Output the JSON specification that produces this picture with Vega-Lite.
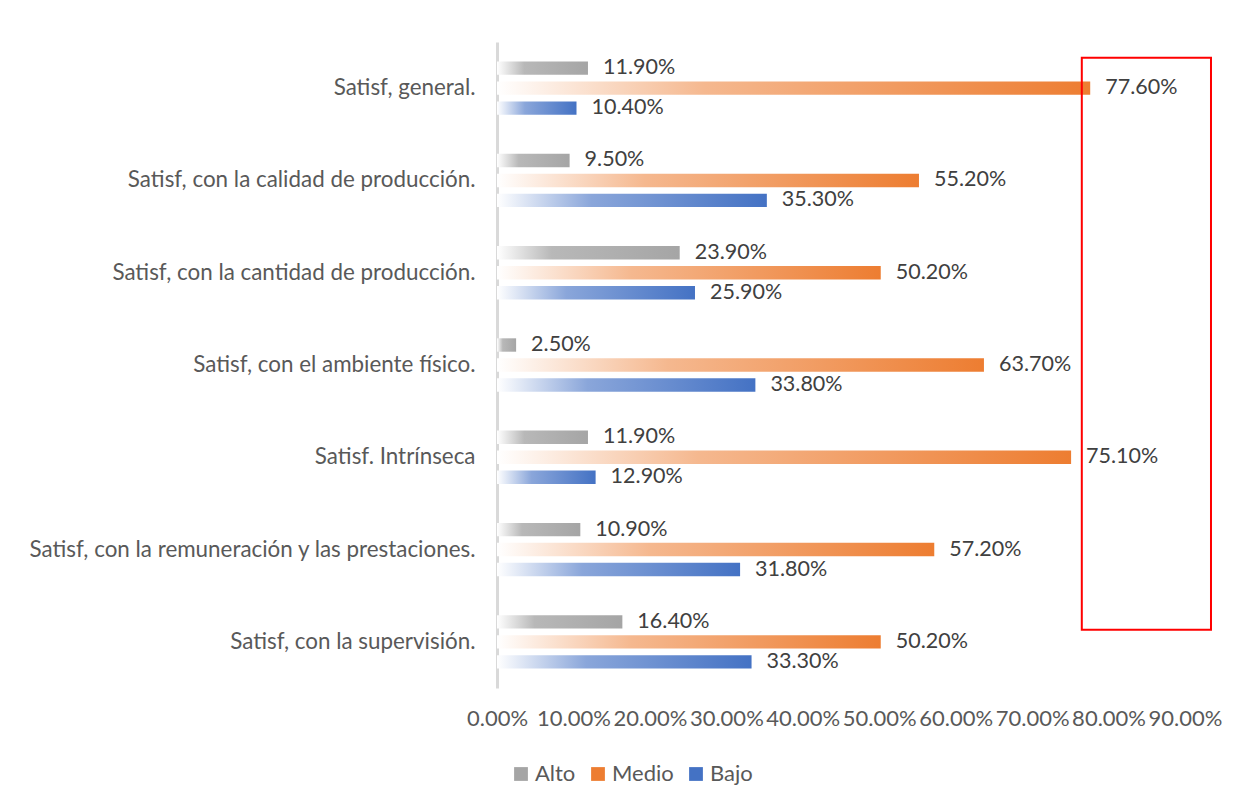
{
  "$schema": "https://vega.github.io/schema/vega-lite/v6.json",
  "width": 688,
  "height": 646,
  "autosize": "none",
  "padding": {"left": 497, "top": 42, "right": 49, "bottom": 116},
  "background": "white",
  "config": {
    "view": {"stroke": null},
    "font": "Lato",
    "axis": {"labelFont": "Lato", "labelColor": "#595959", "labelFontSize": 22, "grid": false, "ticks": false, "title": null},
    "legend": {"labelFont": "Lato", "labelColor": "#595959", "labelFontSize": 22}
  },
  "datasets": {
    "bars": [
      {"cat": "Satisf, general.", "series": "Alto", "value": 0.119},
      {"cat": "Satisf, general.", "series": "Medio", "value": 0.776},
      {"cat": "Satisf, general.", "series": "Bajo", "value": 0.104},
      {"cat": "Satisf, con la calidad de producción.", "series": "Alto", "value": 0.095},
      {"cat": "Satisf, con la calidad de producción.", "series": "Medio", "value": 0.552},
      {"cat": "Satisf, con la calidad de producción.", "series": "Bajo", "value": 0.353},
      {"cat": "Satisf, con la cantidad de producción.", "series": "Alto", "value": 0.239},
      {"cat": "Satisf, con la cantidad de producción.", "series": "Medio", "value": 0.502},
      {"cat": "Satisf, con la cantidad de producción.", "series": "Bajo", "value": 0.259},
      {"cat": "Satisf, con el ambiente físico.", "series": "Alto", "value": 0.025},
      {"cat": "Satisf, con el ambiente físico.", "series": "Medio", "value": 0.637},
      {"cat": "Satisf, con el ambiente físico.", "series": "Bajo", "value": 0.338},
      {"cat": "Satisf. Intrínseca", "series": "Alto", "value": 0.119},
      {"cat": "Satisf. Intrínseca", "series": "Medio", "value": 0.751},
      {"cat": "Satisf. Intrínseca", "series": "Bajo", "value": 0.129},
      {"cat": "Satisf, con la remuneración y las prestaciones.", "series": "Alto", "value": 0.109},
      {"cat": "Satisf, con la remuneración y las prestaciones.", "series": "Medio", "value": 0.572},
      {"cat": "Satisf, con la remuneración y las prestaciones.", "series": "Bajo", "value": 0.318},
      {"cat": "Satisf, con la supervisión.", "series": "Alto", "value": 0.164},
      {"cat": "Satisf, con la supervisión.", "series": "Medio", "value": 0.502},
      {"cat": "Satisf, con la supervisión.", "series": "Bajo", "value": 0.333}
    ],
    "box": [
      {"x1": 0.765, "x2": 0.934, "y1": 0.17, "y2": 6.37}
    ]
  },
  "layer": [
    {
      "data": {"name": "bars"},
      "encoding": {
        "y": {"field": "cat", "type": "nominal", "sort": null,
              "scale": {"paddingInner": 0.35, "paddingOuter": 0.175},
              "axis": {"domainColor": "#d9d9d9", "domainWidth": 3, "labelPadding": 22, "labelLimit": 600, "labelFontSize": 22.4}},
        "yOffset": {"field": "series", "type": "nominal",
                    "scale": {"domain": ["Alto", "Medio", "Bajo"], "paddingInner": 0.33, "paddingOuter": 0.165}},
        "x": {"field": "value", "type": "quantitative",
              "scale": {"domain": [0, 0.9], "nice": false},
              "axis": {"format": ".2%", "values": [0, 0.1, 0.2, 0.3, 0.4, 0.5, 0.6, 0.7, 0.8, 0.9], "domain": false, "labelPadding": 20, "labelFlush": false}}
      },
      "layer": [
        {
          "mark": {"type": "bar", "opacity": 0},
          "encoding": {
            "color": {"field": "series", "type": "nominal",
                      "scale": {"domain": ["Alto", "Medio", "Bajo"], "range": ["#a5a5a5", "#ed7d31", "#4472c4"]},
                      "legend": {"orient": "none", "legendX": 13, "legendY": 721, "direction": "horizontal", "title": null, "symbolType": "square", "symbolSize": 190, "symbolStrokeWidth": 0, "symbolOpacity": 1, "columnPadding": 11, "labelOffset": 3,
                        "encode": {"symbols": {"update": {
                          "fill": {"value": {"expr": "datum.value === 'Alto' ? {gradient: 'linear', x1: 0, y1: 0, x2: 1, y2: 0, stops: [{offset: 0, color: '#ffffff'}, {offset: 0.5, color: '#b8b8b8'}, {offset: 1, color: '#a5a5a5'}]} : datum.value === 'Medio' ? {gradient: 'linear', x1: 0, y1: 0, x2: 1, y2: 0, stops: [{offset: 0, color: '#ffffff'}, {offset: 0.5, color: '#f5b88f'}, {offset: 1, color: '#ed7d31'}]} : {gradient: 'linear', x1: 0, y1: 0, x2: 1, y2: 0, stops: [{offset: 0, color: '#ffffff'}, {offset: 0.5, color: '#8aa6da'}, {offset: 1, color: '#4472c4'}]}"}},
                          "opacity": {"value": 1}}}}}}
          }
        },
        {
          "transform": [{"filter": "datum.series === 'Alto'"}],
          "mark": {"type": "bar", "color": {"gradient": "linear", "x1": 0, "y1": 0, "x2": 1, "y2": 0, "stops": [{"offset": 0, "color": "#ffffff"}, {"offset": 0.3, "color": "#b8b8b8"}, {"offset": 1, "color": "#a5a5a5"}]}}
        },
        {
          "transform": [{"filter": "datum.series === 'Medio'"}],
          "mark": {"type": "bar", "color": {"gradient": "linear", "x1": 0, "y1": 0, "x2": 1, "y2": 0, "stops": [{"offset": 0, "color": "#ffffff"}, {"offset": 0.35, "color": "#f5b88f"}, {"offset": 1, "color": "#ed7d31"}]}}
        },
        {
          "transform": [{"filter": "datum.series === 'Bajo'"}],
          "mark": {"type": "bar", "color": {"gradient": "linear", "x1": 0, "y1": 0, "x2": 1, "y2": 0, "stops": [{"offset": 0, "color": "#ffffff"}, {"offset": 0.35, "color": "#8aa6da"}, {"offset": 1, "color": "#4472c4"}]}}
        },
        {
          "mark": {"type": "text", "align": "left", "baseline": "middle", "dx": 15, "fontSize": 21.5, "font": "Lato", "color": "#404040"},
          "encoding": {
            "text": {"field": "value", "type": "quantitative", "format": ".2%"}
          }
        }
      ]
    },
    {
      "data": {"name": "box"},
      "mark": {"type": "rect", "fill": null, "stroke": "#ff0000", "strokeWidth": 2},
      "encoding": {
        "x": {"field": "x1", "type": "quantitative"},
        "x2": {"field": "x2"},
        "y": {"field": "y1", "type": "quantitative", "scale": {"domain": [0, 7], "reverse": true, "nice": false, "zero": false}, "axis": null},
        "y2": {"field": "y2"}
      }
    }
  ],
  "resolve": {"scale": {"y": "independent"}}
}
